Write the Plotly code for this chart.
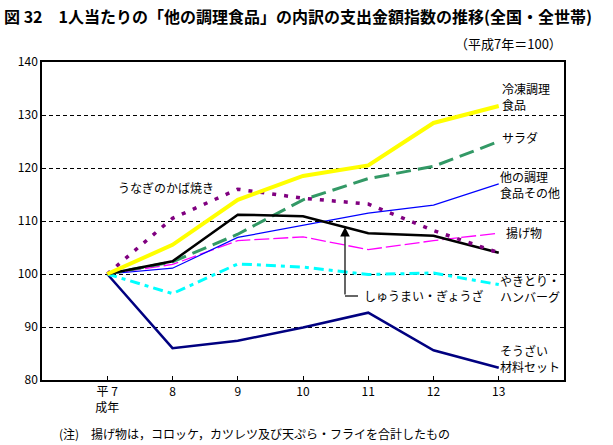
import plotly.graph_objects as go

years = ["平 7<br>成年", "8", "9", "10", "11", "12", "13"]
x_idx = list(range(len(years)))

reito = [100, 105.5, 114.0, 118.5, 120.5, 128.5, 131.7]
salad = [100, 102.3, 107.5, 114.0, 118.0, 120.3, 125.0]
sonota = [100, 101.1, 106.9, 109.2, 111.5, 113.0, 117.0]
agemono = [100, 101.8, 106.3, 107.0, 104.6, 106.3, 107.7]
shumai = [100, 102.4, 111.2, 110.9, 107.7, 107.2, 104.0]
unagi = [100, 110.5, 116.0, 114.3, 113.2, 108.2, 104.0]
yakitori = [100, 96.3, 101.9, 101.3, 99.9, 100.2, 98.0]
souzai = [100, 86.0, 87.4, 89.9, 92.7, 85.6, 82.3]

FONT = "Noto Sans CJK JP"

fig = go.Figure()

def add(y, color, width, dash="solid"):
    fig.add_trace(go.Scatter(x=x_idx, y=y, mode="lines",
                             line=dict(color=color, width=width, dash=dash),
                             showlegend=False, hoverinfo="skip"))

add(souzai, "#000080", 2.5)
add(yakitori, "#00FFFF", 3, "10px,5px,4px,5px")
add(agemono, "#FF00FF", 1.3, "15px,4px")
add(sonota, "#0000FF", 1.2)
add(salad, "#339966", 3, "15px,7px")
add(shumai, "#000000", 2.5)
add(unagi, "#800080", 3.5, "4px,8px")
add(reito, "#FFFF00", 4)

fig.update_layout(
    width=613, height=445,
    margin=dict(l=42, r=49, t=62, b=65),
    paper_bgcolor="white", plot_bgcolor="white",
    font=dict(family=FONT, size=12, color="black"),
    xaxis=dict(range=[-1, 7], tickvals=x_idx, ticktext=years,
               showgrid=False, zeroline=False,
               showline=True, linecolor="black", linewidth=1.5, mirror=True,
               ticks="inside", ticklen=4, tickcolor="black",
               tickfont=dict(size=12)),
    yaxis=dict(range=[80, 140], dtick=10, showgrid=True,
               gridcolor="black", griddash="4px,3px", gridwidth=1,
               zeroline=False, showline=True, linecolor="black",
               linewidth=1.5, mirror=True, ticks="",
               tickfont=dict(size=12)),
)

def px2x(px):
    return (px - 42) / 65.25 - 1

def px2y(py):
    return 140 - (py - 62) / 5.3

labels = [
    ("冷凍調理<br>食品", 500, 96),
    ("サラダ", 500, 137),
    ("他の調理<br>食品その他", 498, 184),
    ("揚げ物", 504, 232),
    ("やきとり・<br>ハンバーグ", 498, 288),
    ("そうざい<br>材料セット", 498, 358),
    ("うなぎのかば焼き", 116, 187),
]
for t, px, py in labels:
    fig.add_annotation(x=px2x(px), y=px2y(py), xref="x", yref="y", text=t,
                       showarrow=False, xanchor="left", yanchor="middle",
                       align="left", font=dict(size=12, family=FONT))

# しゅうまい・ぎょうざ with elbow arrow
fig.add_annotation(x=px2x(362), y=px2y(295), xref="x", yref="y",
                   text="しゅうまい・ぎょうざ", showarrow=False,
                   xanchor="left", yanchor="middle",
                   font=dict(size=12, family=FONT))
fig.add_annotation(x=px2x(345), y=px2y(227), xref="x", yref="y",
                   ax=px2x(345), ay=px2y(296), axref="x", ayref="y",
                   text="", showarrow=True, arrowhead=2, arrowsize=1.6,
                   arrowwidth=1.2, arrowcolor="black")
fig.add_shape(type="line", xref="x", yref="y",
              x0=px2x(345), y0=px2y(296), x1=px2x(358), y1=px2y(296),
              line=dict(color="black", width=1.2))

# title, subtitle, note
fig.add_annotation(x=0, y=1, xref="paper", yref="paper", xshift=-42+2, yshift=62-2,
                   text="<b>図 32　1人当たりの「他の調理食品」の内訳の支出金額指数の推移(全国・全世帯)</b>",
                   showarrow=False, xanchor="left", yanchor="top",
                   font=dict(size=16, family=FONT))
fig.add_annotation(x=1, y=1, xref="paper", yref="paper", yshift=7,
                   text="（平成7年＝100）", showarrow=False,
                   xanchor="right", yanchor="bottom",
                   font=dict(size=13, family=FONT))
fig.add_annotation(x=0, y=0, xref="paper", yref="paper", xshift=15, yshift=-65+1,
                   text="(注)　揚げ物は，コロッケ，カツレツ及び天ぷら・フライを合計したもの",
                   showarrow=False, xanchor="left", yanchor="bottom",
                   font=dict(size=12, family=FONT))

fig.write_html("out.html", config={"displayModeBar": False},
               post_script="document.body.style.margin='0px';document.body.style.overflow='hidden';")
